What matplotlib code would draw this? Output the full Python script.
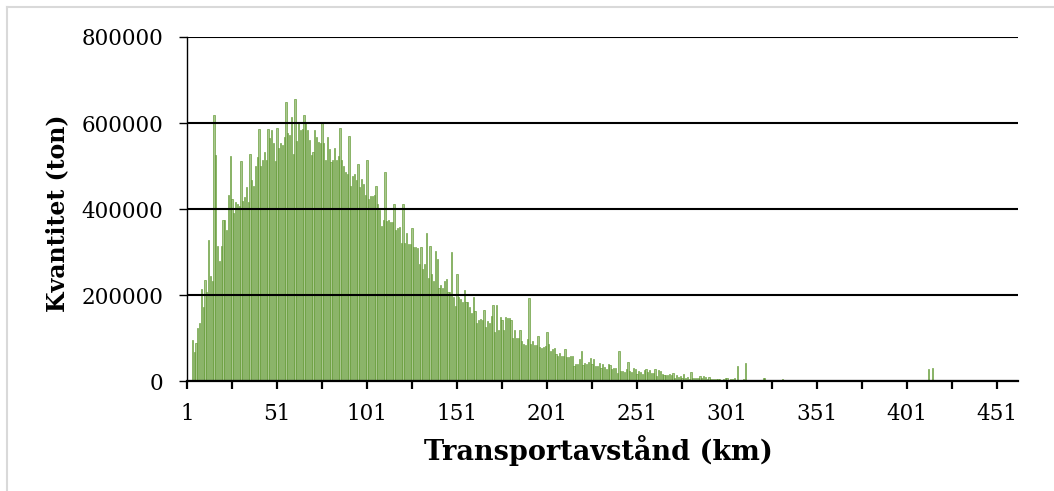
import matplotlib
matplotlib.use("Agg")
import matplotlib.pyplot as plt
from matplotlib.lines import Line2D
from matplotlib.ticker import FixedLocator, NullFormatter

# ---------------- data ----------------
lead_zero = [0, 0, 0]  # km 1-3

part1 = [  # km 4-107
    95000, 68000, 89000, 123000, 136000, 213000, 171000, 235000, 206000, 329000,
    245000, 233000, 618000, 525000, 315000, 280000, 313000, 375000, 375000, 352000,
    433000, 524000, 423000, 391000, 416000, 412000, 408000, 512000, 419000, 428000,
    450000, 416000, 527000, 467000, 454000, 500000, 521000, 585000, 500000, 514000,
    533000, 515000, 585000, 564000, 584000, 553000, 512000, 588000, 541000, 553000,
    549000, 567000, 650000, 576000, 572000, 613000, 529000, 655000, 558000, 599000,
    584000, 585000, 619000, 599000, 584000, 560000, 525000, 533000, 584000, 568000,
    556000, 554000, 603000, 553000, 514000, 568000, 539000, 510000, 514000, 541000,
    514000, 523000, 588000, 514000, 500000, 486000, 482000, 570000, 454000, 476000,
    482000, 467000, 505000, 451000, 469000, 459000, 432000, 515000, 424000, 430000,
    430000, 432000, 453000, 412000,
]

part2 = [  # km 108-212
    397000, 360000, 374000, 485000, 371000, 375000, 370000, 370000, 412000, 351000,
    355000, 358000, 321000, 412000, 321000, 344000, 319000, 318000, 356000, 311000,
    311000, 310000, 272000, 311000, 261000, 272000, 345000, 240000, 314000, 249000,
    233000, 302000, 284000, 216000, 224000, 216000, 233000, 237000, 206000, 206000,
    299000, 195000, 175000, 249000, 195000, 191000, 183000, 212000, 183000, 183000,
    171000, 157000, 195000, 163000, 134000, 142000, 144000, 142000, 165000, 126000,
    140000, 134000, 152000, 177000, 115000, 177000, 119000, 148000, 142000, 118000,
    148000, 146000, 146000, 142000, 100000, 119000, 101000, 101000, 118000, 93000,
    86000, 84000, 97000, 193000, 86000, 92000, 84000, 84000, 105000, 78000,
    76000, 78000, 82000, 113000, 86000, 70000, 74000, 76000, 62000, 58000,
    66000, 58000, 58000, 74000, 56000,
]

part3 = [  # km 213-318
    56000, 58000, 58000, 35000, 40000, 39000, 51000, 70000, 37000, 43000,
    39000, 45000, 53000, 40000, 51000, 35000, 35000, 43000, 31000, 39000,
    33000, 27000, 39000, 37000, 27000, 31000, 30000, 19000, 70000, 23000,
    23000, 22000, 27000, 44000, 23000, 22000, 30000, 29000, 17000, 23000,
    22000, 17000, 25000, 27000, 22000, 26000, 19000, 19000, 27000, 12000,
    25000, 23000, 17000, 14000, 14000, 14000, 16000, 14000, 19000, 8000,
    14000, 9000, 12000, 8000, 17000, 8000, 9000, 4000, 21000, 6000,
    6000, 8000, 6000, 11000, 8000, 11000, 9000, 4000, 9000, 4000,
    5000, 4000, 5000, 5000, 4000, 3000, 5000, 6000, 6000, 3000,
    5000, 5000, 8000, 3000, 35000, 2000, 2000, 4000, 43000, 2000,
    1000, 1000, 0, 3000, 2000, 1000,
]

part4 = [  # km 319-462
    1000, 2000, 6000, 6000, 1000, 1000, 2000, 1000, 500, 1000,
    500, 1000, 1500, 5000, 2000, 500, 1000, 500, 2000, 500,
    1000, 2000, 500, 3000, 500, 1000, 500, 500, 1000, 1500,
    300, 500, 300, 500, 300, 500, 300, 2000, 300, 400,
    200, 300, 500, 200, 300, 200, 400, 200, 300, 200,
    1000, 200, 100, 200, 100, 0, 100, 0, 200, 0,
    100, 0, 0, 100, 0, 0, 0, 100, 0, 0,
    0, 0, 0, 0, 0, 0, 0, 0, 0, 0,
    0, 0, 0, 0, 0, 0, 0, 0, 0, 0,
    0, 0, 0, 0, 29000, 0, 31000, 0, 0, 0,
    0, 0, 0, 0, 0, 0, 0, 0, 0, 0,
    0, 0, 0, 0, 0, 0, 0, 0, 0, 0,
    0, 0, 0, 0, 0, 0, 0, 0, 0, 0,
    0, 0, 0, 0, 0, 0, 0, 0, 0, 0,
    0, 0, 0, 0,
]

quantity = lead_zero + part1 + part2 + part3 + part4
distance_km = list(range(1, len(quantity) + 1))

y_ticks = [0, 200000, 400000, 600000, 800000]
x_label_ticks = [1, 51, 101, 151, 201, 251, 301, 351, 401, 451]
x_minor_ticks = [26, 76, 126, 176, 226, 276, 326, 376, 426]

x_title = "Transportavstånd (km)"
y_title = "Kvantitet (ton)"

# ---------------- figure ----------------
W, H = 1054, 491
fig = plt.figure(figsize=(W / 100, H / 100), dpi=100)
fig.patch.set_facecolor("white")

left, right, top, bottom = 187, 1018.3, 37, 381
ax = fig.add_axes([left / W, 1 - bottom / H, (right - left) / W, (bottom - top) / H])

font = "DejaVu Serif"

ax.bar(distance_km, quantity, width=0.6, color="#a9c78e",
       edgecolor="#52901f", linewidth=0.4, zorder=1)

ax.set_xlim(1, 462.8)
ax.set_ylim(0, 800000)

for s in ["top", "right"]:
    ax.spines[s].set_visible(False)
ax.spines["left"].set_linewidth(1.0)
ax.spines["bottom"].set_linewidth(1.6)

ax.set_yticks(y_ticks)
ax.set_yticklabels([str(v) for v in y_ticks], fontfamily=font, fontsize=15.5)
ax.yaxis.grid(True, color="black", linewidth=1.5)
ax.set_axisbelow(False)

ax.xaxis.set_major_locator(FixedLocator(x_label_ticks))
ax.xaxis.set_minor_locator(FixedLocator(x_minor_ticks))
ax.xaxis.set_minor_formatter(NullFormatter())
ax.set_xticklabels([str(v) for v in x_label_ticks], fontfamily=font, fontsize=15.5)

ax.tick_params(axis="y", which="major", direction="out", length=6, width=1.0,
               pad=11, colors="black")
ax.tick_params(axis="x", which="both", direction="out", length=6, width=1.6,
               pad=10, colors="black")

fig.text(598.5 / W, 1 - 451 / H, x_title, fontfamily=font, fontweight="bold",
         fontsize=19.5, ha="center", va="center")
fig.text(57 / W, 1 - 213 / H, y_title, fontfamily=font, fontweight="bold",
         fontsize=17, ha="center", va="center", rotation=90)

# light grey chart-area border (top and left visible)
fig.add_artist(Line2D([7 / W, 7 / W], [0, 1 - 7 / H], color="#d9d9d9",
                      linewidth=1.5, transform=fig.transFigure))
fig.add_artist(Line2D([7 / W, 1], [1 - 7 / H, 1 - 7 / H], color="#d9d9d9",
                      linewidth=1.5, transform=fig.transFigure))

fig.savefig("out.png", dpi=100, facecolor="white")
